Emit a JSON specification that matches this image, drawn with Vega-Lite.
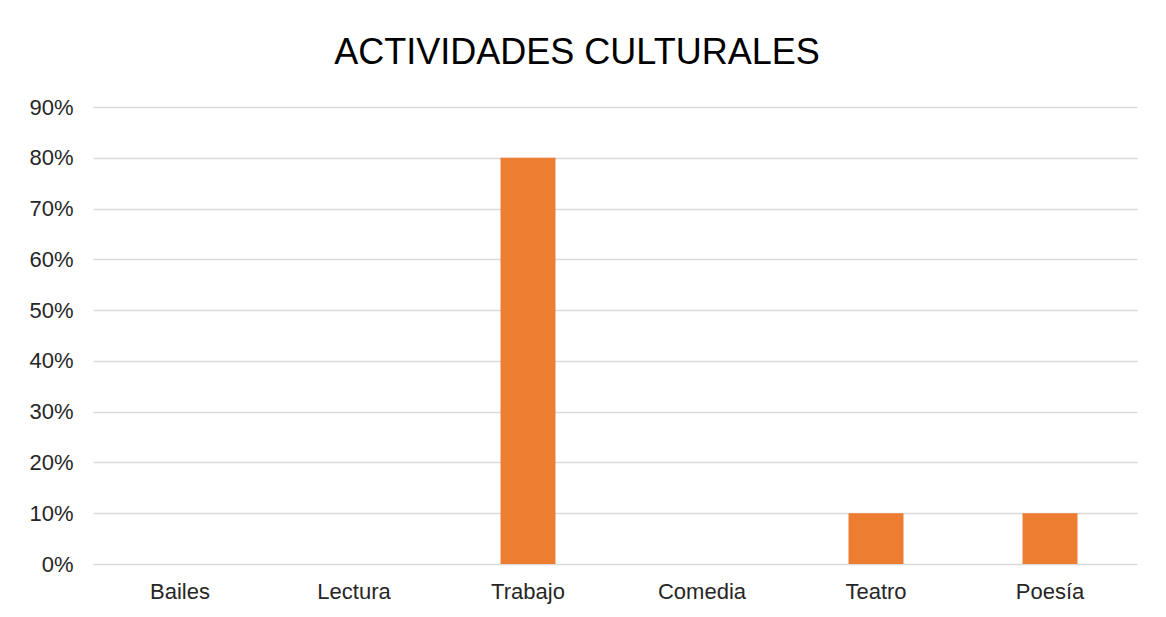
{
  "$schema": "https://vega.github.io/schema/vega-lite/v6.json",
  "width": 1044,
  "height": 457,
  "autosize": {"type": "none"},
  "padding": {"left": 93, "top": 107, "right": 29, "bottom": 53},
  "background": "white",
  "title": {
    "text": "ACTIVIDADES CULTURALES",
    "font": "Liberation Sans",
    "fontSize": 36,
    "fontWeight": "normal",
    "color": "#000000",
    "anchor": "middle",
    "dx": -38,
    "baseline": "alphabetic",
    "offset": -4
  },
  "config": {
    "view": {"stroke": null},
    "font": "Liberation Sans"
  },
  "data": {
    "values": [
      {"actividad": "Bailes", "valor": 0},
      {"actividad": "Lectura", "valor": 0},
      {"actividad": "Trabajo", "valor": 0.8},
      {"actividad": "Comedia", "valor": 0},
      {"actividad": "Teatro", "valor": 0.1},
      {"actividad": "Poesía", "valor": 0.1}
    ]
  },
  "mark": {"type": "bar", "color": "#ED7D31"},
  "encoding": {
    "x": {
      "field": "actividad",
      "type": "nominal",
      "sort": null,
      "scale": {"paddingInner": 0.684, "paddingOuter": 0.342},
      "axis": {
        "title": null,
        "labelAngle": 0,
        "domain": false,
        "ticks": false,
        "labelFont": "Liberation Sans",
        "labelFontSize": 22,
        "labelColor": "#262626",
        "labelPadding": 17
      }
    },
    "y": {
      "field": "valor",
      "type": "quantitative",
      "scale": {"domain": [0, 0.9], "nice": false},
      "axis": {
        "title": null,
        "format": ".0%",
        "values": [0, 0.1, 0.2, 0.3, 0.4, 0.5, 0.6, 0.7, 0.8, 0.9],
        "domain": false,
        "ticks": false,
        "grid": true,
        "gridColor": "#d9d9d9",
        "gridWidth": 1.5,
        "labelFont": "Liberation Sans",
        "labelFontSize": 22,
        "labelColor": "#262626",
        "labelPadding": 20
      }
    }
  }
}
